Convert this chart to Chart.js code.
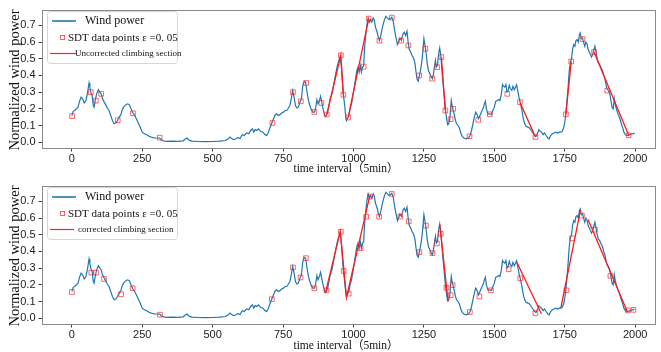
<!DOCTYPE html>
<html>
<head>
    <meta charset="utf-8">
    <title>SDT climbing sections</title>
    <script src="https://cdn.jsdelivr.net/npm/chart.js@4.4.0/dist/chart.umd.min.js"></script>
    <style>
        body { margin: 0; background: #fff; }
        .box { position: absolute; left: 0; width: 661px; height: 176px; }
    </style>
</head>
<body>
    <div class="box" style="top:0"><canvas id="top" width="661" height="176"></canvas></div>
    <div class="box" style="top:176px"><canvas id="bottom" width="661" height="176"></canvas></div>

    <script>
        // wind power curve (time step, normalized power)
        const windT = [0, 5, 10, 16, 22, 27, 33, 38, 44, 50, 55, 61, 64, 67, 72, 76, 79, 83, 88, 94, 99, 104, 109, 115, 120, 126, 132, 138, 144, 150, 156, 162, 168, 174, 180, 186, 192, 198, 204, 210, 217, 223, 229, 236, 243, 250, 258, 266, 274, 282, 292, 302, 312, 320, 335, 355, 375, 395, 404, 409, 416, 426, 450, 475, 500, 525, 545, 555, 562, 568, 575, 583, 590, 597, 605, 612, 620, 628, 635, 641, 646, 651, 657, 663, 670, 678, 686, 692, 698, 704, 710, 716, 722, 727, 733, 739, 745, 751, 757, 763, 769, 774, 779, 784, 789, 794, 799, 804, 810, 815, 820, 825, 830, 835, 840, 845, 850, 856, 862, 866, 870, 874, 878, 883, 887, 892, 896, 900, 904, 908, 913, 918, 923, 928, 933, 938, 943, 948, 953, 957, 961, 964, 968, 972, 975, 979, 983, 988, 993, 998, 1003, 1008, 1012, 1016, 1020, 1024, 1028, 1032, 1036, 1040, 1044, 1048, 1052, 1056, 1060, 1065, 1070, 1074, 1078, 1083, 1088, 1092, 1097, 1101, 1105, 1110, 1115, 1120, 1126, 1131, 1136, 1141, 1146, 1151, 1156, 1160, 1165, 1170, 1175, 1180, 1185, 1190, 1194, 1198, 1203, 1208, 1213, 1218, 1222, 1226, 1230, 1234, 1238, 1242, 1246, 1250, 1254, 1258, 1262, 1266, 1271, 1276, 1280, 1284, 1288, 1291, 1294, 1298, 1302, 1306, 1310, 1314, 1318, 1322, 1326, 1330, 1334, 1338, 1342, 1347, 1350, 1354, 1358, 1362, 1366, 1371, 1376, 1381, 1386, 1392, 1400, 1408, 1414, 1419, 1424, 1429, 1434, 1439, 1444, 1449, 1455, 1460, 1464, 1468, 1472, 1477, 1483, 1489, 1495, 1500, 1505, 1510, 1515, 1520, 1525, 1529, 1533, 1537, 1541, 1545, 1549, 1553, 1557, 1562, 1566, 1571, 1575, 1579, 1583, 1588, 1593, 1598, 1603, 1608, 1613, 1619, 1625, 1631, 1637, 1643, 1648, 1653, 1658, 1663, 1668, 1673, 1678, 1684, 1690, 1695, 1700, 1706, 1712, 1718, 1724, 1730, 1736, 1741, 1746, 1750, 1754, 1758, 1762, 1766, 1770, 1774, 1778, 1782, 1786, 1790, 1794, 1798, 1802, 1805, 1809, 1813, 1817, 1821, 1825, 1829, 1833, 1837, 1841, 1845, 1849, 1853, 1857, 1861, 1865, 1869, 1874, 1879, 1884, 1888, 1892, 1896, 1900, 1905, 1910, 1914, 1918, 1922, 1926, 1930, 1935, 1940, 1945, 1950, 1955, 1960, 1965, 1970, 1976, 1982, 1988, 1993, 1998];
        const windP = [0.16, 0.185, 0.19, 0.2, 0.21, 0.245, 0.27, 0.26, 0.235, 0.25, 0.29, 0.355, 0.33, 0.3, 0.28, 0.22, 0.21, 0.25, 0.29, 0.315, 0.3, 0.29, 0.26, 0.24, 0.225, 0.205, 0.19, 0.16, 0.13, 0.11, 0.115, 0.13, 0.15, 0.165, 0.2, 0.215, 0.225, 0.23, 0.225, 0.2, 0.175, 0.16, 0.14, 0.115, 0.09, 0.06, 0.05, 0.045, 0.035, 0.03, 0.025, 0.025, 0.025, 0.01, 0.005, 0.006, 0.005, 0.008, 0.02, 0.025, 0.012, 0.006, 0.004, 0.003, 0.004, 0.006, 0.01, 0.02, 0.03, 0.02, 0.015, 0.02, 0.028, 0.022, 0.045, 0.04, 0.055, 0.05, 0.07, 0.08, 0.06, 0.075, 0.07, 0.08, 0.065, 0.06, 0.045, 0.04, 0.06, 0.09, 0.115, 0.14, 0.165, 0.17, 0.16, 0.165, 0.175, 0.18, 0.19, 0.19, 0.205, 0.22, 0.26, 0.31, 0.27, 0.22, 0.205, 0.21, 0.24, 0.26, 0.34, 0.365, 0.36, 0.3, 0.25, 0.22, 0.195, 0.18, 0.18, 0.21, 0.255, 0.23, 0.245, 0.275, 0.24, 0.2, 0.17, 0.155, 0.16, 0.18, 0.22, 0.265, 0.285, 0.33, 0.375, 0.42, 0.46, 0.49, 0.515, 0.45, 0.35, 0.285, 0.23, 0.16, 0.13, 0.145, 0.155, 0.2, 0.23, 0.28, 0.33, 0.39, 0.43, 0.45, 0.42, 0.46, 0.42, 0.45, 0.455, 0.58, 0.65, 0.71, 0.745, 0.72, 0.735, 0.72, 0.745, 0.73, 0.69, 0.665, 0.63, 0.61, 0.64, 0.675, 0.705, 0.735, 0.755, 0.745, 0.735, 0.74, 0.75, 0.725, 0.67, 0.625, 0.585, 0.6, 0.625, 0.61, 0.645, 0.66, 0.64, 0.665, 0.6, 0.555, 0.54, 0.52, 0.505, 0.475, 0.42, 0.375, 0.365, 0.4, 0.43, 0.475, 0.54, 0.62, 0.58, 0.53, 0.47, 0.43, 0.41, 0.39, 0.38, 0.41, 0.46, 0.49, 0.45, 0.46, 0.53, 0.565, 0.52, 0.43, 0.35, 0.28, 0.2, 0.15, 0.105, 0.11, 0.14, 0.25, 0.22, 0.19, 0.165, 0.13, 0.11, 0.1, 0.085, 0.055, 0.035, 0.025, 0.02, 0.025, 0.04, 0.07, 0.11, 0.15, 0.18, 0.165, 0.14, 0.16, 0.185, 0.2, 0.225, 0.245, 0.2, 0.17, 0.17, 0.165, 0.19, 0.21, 0.245, 0.25, 0.255, 0.25, 0.29, 0.345, 0.335, 0.33, 0.345, 0.3, 0.31, 0.34, 0.32, 0.31, 0.335, 0.315, 0.33, 0.345, 0.31, 0.265, 0.23, 0.19, 0.14, 0.11, 0.095, 0.09, 0.085, 0.07, 0.055, 0.04, 0.035, 0.05, 0.075, 0.065, 0.06, 0.045, 0.055, 0.04, 0.025, 0.02, 0.04, 0.05, 0.055, 0.06, 0.055, 0.06, 0.06, 0.065, 0.085, 0.12, 0.17, 0.25, 0.33, 0.43, 0.48, 0.5, 0.56, 0.585, 0.575, 0.61, 0.615, 0.6, 0.645, 0.655, 0.62, 0.625, 0.6, 0.575, 0.6, 0.59, 0.555, 0.54, 0.525, 0.51, 0.525, 0.55, 0.575, 0.54, 0.505, 0.475, 0.465, 0.445, 0.43, 0.4, 0.385, 0.35, 0.32, 0.31, 0.29, 0.25, 0.21, 0.2, 0.26, 0.22, 0.19, 0.165, 0.145, 0.115, 0.09, 0.06, 0.045, 0.04, 0.04, 0.045, 0.05, 0.05, 0.055];

        // SDT points, upper plot
        const sdtTopT = [1, 67, 85, 104, 163, 217, 312, 712, 785, 813, 832, 861, 886, 905, 955, 964, 981, 1036, 1054, 1092, 1136, 1169, 1195, 1233, 1255, 1279, 1297, 1312, 1326, 1345, 1354, 1412, 1443, 1484, 1546, 1591, 1646, 1754, 1773, 1813, 1854, 1901, 1977];
        const sdtTopP = [0.156, 0.3, 0.249, 0.29, 0.132, 0.173, 0.027, 0.115, 0.3, 0.245, 0.355, 0.181, 0.235, 0.166, 0.521, 0.284, 0.148, 0.453, 0.741, 0.609, 0.747, 0.609, 0.58, 0.4, 0.56, 0.381, 0.45, 0.51, 0.19, 0.138, 0.2, 0.035, 0.134, 0.167, 0.29, 0.24, 0.031, 0.167, 0.484, 0.618, 0.54, 0.309, 0.041];
        // SDT points, lower plot
        const sdtBotT = [0, 69, 86, 114, 175, 216, 313, 710, 785, 812, 831, 861, 904, 955, 965, 983, 1025, 1045, 1058, 1091, 1136, 1166, 1196, 1234, 1257, 1280, 1296, 1310, 1330, 1345, 1352, 1413, 1447, 1488, 1551, 1592, 1646, 1756, 1776, 1811, 1857, 1912, 1974, 1994];
        const sdtBotP = [0.157, 0.273, 0.273, 0.235, 0.143, 0.18, 0.021, 0.114, 0.304, 0.244, 0.36, 0.179, 0.167, 0.518, 0.283, 0.147, 0.42, 0.609, 0.729, 0.609, 0.745, 0.609, 0.58, 0.396, 0.555, 0.39, 0.448, 0.506, 0.182, 0.138, 0.198, 0.037, 0.13, 0.167, 0.293, 0.24, 0.031, 0.167, 0.479, 0.615, 0.531, 0.254, 0.047, 0.05];

        // climbing sections (null = break between segments)
        const climbTopT = [905, 955, 964, null, 981, 1054, null, 1312, 1326, null, 1591, 1646, null, 1754, 1773, null, 1854, 1977];
        const climbTopP = [0.166, 0.521, 0.284, null, 0.148, 0.741, null, 0.51, 0.19, null, 0.24, 0.031, null, 0.167, 0.484, null, 0.54, 0.041];
        const climbBotT = [900, 953, 975, 1058, null, 1306, 1336, null, 1580, 1667, null, 1736, 1806, null, 1833, 1972];
        const climbBotP = [0.15, 0.52, 0.125, 0.735, null, 0.565, 0.1, null, 0.335, 0.027, null, 0.06, 0.65, null, 0.59, 0.04];

        const xTicks = [0, 250, 500, 750, 1000, 1250, 1500, 1750, 2000];
        const yTicks = [0, 0.1, 0.2, 0.3, 0.4, 0.5, 0.6, 0.7];

        const BLUE = '#1f77b4';
        const SERIF = '"Liberation Serif", "Times New Roman", "Noto Sans CJK SC", serif';

        function pts(T, P) {
            return T.map((t, i) => t === null ? { x: T[i - 1], y: null } : { x: t, y: P[i] });
        }

        // frame, axis titles and the legend box
        const decor = {
            id: 'decor',
            afterDraw(chart, args, opts) {
                const ctx = chart.ctx;
                const a = chart.chartArea;
                ctx.save();
                ctx.strokeStyle = '#8a8a8a';
                ctx.lineWidth = 1;
                ctx.strokeRect(Math.round(a.left) + 0.5, Math.round(a.top) + 0.5,
                    Math.round(a.right - a.left) - 1, Math.round(a.bottom - a.top));

                ctx.fillStyle = '#111';
                ctx.textAlign = 'center';
                ctx.textBaseline = 'middle';
                ctx.font = '14.5px ' + SERIF;
                ctx.save();
                ctx.translate(15, 80);
                ctx.rotate(-Math.PI / 2);
                ctx.fillText('Normalized wind power', 0, 0);
                ctx.restore();
                ctx.font = '11.5px ' + SERIF;
                ctx.fillText('time interval（5min）', 346, opts.xTitleY);

                // legend
                const lx = 47.5, ly = 11.5, lw = 130, lh = 52;
                ctx.beginPath();
                ctx.roundRect(lx, ly, lw, lh, 3);
                ctx.fillStyle = 'rgba(255,255,255,0.85)';
                ctx.fill();
                ctx.strokeStyle = '#d6d6d6';
                ctx.stroke();

                ctx.textAlign = 'left';
                ctx.fillStyle = '#111';
                ctx.strokeStyle = BLUE;
                ctx.lineWidth = 1.6;
                ctx.beginPath();
                ctx.moveTo(52, 21); ctx.lineTo(76, 21);
                ctx.stroke();
                ctx.font = '12px ' + SERIF;
                ctx.fillText('Wind power', 85, 21);

                ctx.strokeStyle = 'rgba(255,40,40,0.75)';
                ctx.lineWidth = 1;
                ctx.strokeRect(60.5, 35.5, 4, 4);
                ctx.font = '11px ' + SERIF;
                ctx.fillText('SDT data points ε =0. 05', 68, 38);

                ctx.strokeStyle = '#ff2020';
                ctx.lineWidth = 1.2;
                ctx.beginPath();
                ctx.moveTo(50, 53.5); ctx.lineTo(opts.lineEnd, 53.5);
                ctx.stroke();
                ctx.font = '9px ' + SERIF;
                ctx.fillText(opts.label3, opts.label3X, 53.5);
                ctx.restore();
            }
        };

        function makeChart(id, sdtT, sdtP, climbT, climbP, padTop, label3, label3X, lineEnd, xTitleY) {
            const ctx = document.getElementById(id).getContext('2d');
            return new Chart(ctx, {
                type: 'line',
                data: {
                    datasets: [
                        {
                            data: pts(windT, windP),
                            borderColor: BLUE,
                            borderWidth: 1.2,
                            pointRadius: 0,
                            order: 3
                        },
                        {
                            data: pts(climbT, climbP),
                            borderColor: '#ff1a1a',
                            borderWidth: 1.3,
                            pointRadius: 0,
                            spanGaps: false,
                            order: 2
                        },
                        {
                            data: pts(sdtT, sdtP),
                            showLine: false,
                            pointStyle: 'rect',
                            pointRadius: 3.3,
                            pointBorderWidth: 1,
                            pointBorderColor: 'rgba(255,40,40,0.7)',
                            pointBackgroundColor: 'rgba(0,0,0,0)',
                            order: 1
                        }
                    ]
                },
                options: {
                    responsive: false,
                    animation: false,
                    devicePixelRatio: 1,
                    layout: { padding: { top: padTop, right: 1, left: 0, bottom: 0 } },
                    plugins: {
                        legend: { display: false },
                        tooltip: { enabled: false },
                        decor: { label3: label3, label3X: label3X, lineEnd: lineEnd, xTitleY: xTitleY }
                    },
                    scales: {
                        x: {
                            type: 'linear',
                            min: -106,
                            max: 2074,
                            afterBuildTicks: s => { s.ticks = xTicks.map(v => ({ value: v })); },
                            afterFit: s => { s.height = 28; },
                            border: { display: false },
                            grid: { drawOnChartArea: false, drawTicks: true, tickLength: 3.5, color: '#444' },
                            ticks: {
                                autoSkip: false, maxRotation: 0, padding: 1,
                                color: '#222',
                                font: { family: '"Liberation Sans", Arial, sans-serif', size: 11 },
                                callback: v => String(v)
                            }
                        },
                        y: {
                            min: -0.035,
                            max: 0.795,
                            afterBuildTicks: s => { s.ticks = yTicks.map(v => ({ value: v })); },
                            afterFit: s => { s.width = 42; },
                            border: { display: false },
                            grid: { drawOnChartArea: false, drawTicks: true, tickLength: 3.5, color: '#444' },
                            ticks: {
                                padding: 3,
                                color: '#222',
                                font: { family: '"Liberation Sans", Arial, sans-serif', size: 11 },
                                callback: v => v.toFixed(1)
                            }
                        }
                    }
                },
                plugins: [decor]
            });
        }

        makeChart('top', sdtTopT, sdtTopP, climbTopT, climbTopP, 5, 'Uncorrected climbing section', 75, 76, 169);
        makeChart('bottom', sdtBotT, sdtBotP, climbBotT, climbBotP, 6, 'corrected climbing section', 78, 74, 170);
    </script>
</body>
</html>
